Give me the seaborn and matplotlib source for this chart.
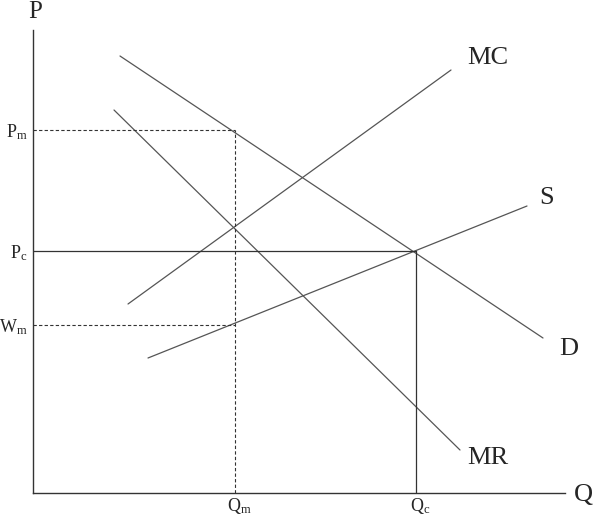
import matplotlib
matplotlib.use('Agg')
import matplotlib.pyplot as plt
import matplotlib.transforms as mtransforms
import pandas as pd
import seaborn as sns

# curve end points (q, p)
curves = ['MC', 'D', 'MR', 'S']
q_start = [95, 87, 81, 115]
p_start = [189, 437, 383, 135]
q_end = [418, 510, 427, 494]
p_end = [423, 155, 43, 287]

# prices / quantities marked on the axes
Pm, Pc, Wm = 363, 242, 168
Qm, Qc = 202, 383
q_max, p_max = 532, 463

df = pd.DataFrame({
    'curve': curves * 2,
    'q': q_start + q_end,
    'p': p_start + p_end,
})

sns.set_theme(style='white')
plt.rcParams['font.family'] = ['Liberation Serif', 'DejaVu Serif']
plt.rcParams['mathtext.fontset'] = 'custom'
plt.rcParams['mathtext.rm'] = 'Liberation Serif'

W, H = 595, 518
fig = plt.figure(figsize=(W / 100, H / 100), dpi=100)
ax = fig.add_axes([33 / W, 25 / H, 532 / W, 463 / H])

sns.lineplot(data=df, x='q', y='p', hue='curve', units='curve', estimator=None,
             sort=False, palette=['#555555'] * 4, linewidth=0.9, legend=False, ax=ax)

# dashed guides (monopoly) and solid guides (competition)
ax.plot([0, Qm], [Pm, Pm], ls='--', color='#333333', lw=0.8, dashes=(3, 2))
ax.plot([Qm, Qm], [0, Pm], ls='--', color='#333333', lw=0.8, dashes=(3, 2))
ax.plot([0, Qm], [Wm, Wm], ls='--', color='#333333', lw=0.8, dashes=(3, 2))
ax.plot([0, Qc], [Pc, Pc], color='#333333', lw=0.9)
ax.plot([Qc, Qc], [0, Pc], color='#333333', lw=0.9)

ax.set_xlim(0, q_max)
ax.set_ylim(0, p_max)
for s in ['top', 'right']:
    ax.spines[s].set_visible(False)
for s in ['left', 'bottom']:
    ax.spines[s].set_color('#333333')
    ax.spines[s].set_linewidth(1.0)

ax.set_xticks([Qm, Qc])
ax.set_xticklabels([r'$\mathregular{Q_m}$', r'$\mathregular{Q_c}$'], fontsize=13)
ax.set_yticks([Wm, Pc, Pm])
ax.set_yticklabels([r'$\mathregular{W_m}$', r'$\mathregular{P_c}$', r'$\mathregular{P_m}$'], fontsize=13)
ax.tick_params(axis='x', length=0, pad=2)
ax.tick_params(axis='y', length=0, pad=4)
# nudge Q labels so the letter itself sits on the tick
shift = mtransforms.ScaledTranslation(4 / 100, 0, fig.dpi_scale_trans)
for lab in ax.get_xticklabels():
    lab.set_transform(lab.get_transform() + shift)
ax.set_xlabel('')
ax.set_ylabel('')

ax.text(2, 481, 'P', fontsize=18, ha='center', va='center', clip_on=False)
ax.text(550, -2, 'Q', fontsize=19, ha='center', va='center', clip_on=False)
ax.text(455, 435, 'MC', fontsize=19, ha='center', va='center')
ax.text(514, 295, 'S', fontsize=19, ha='center', va='center')
ax.text(536, 144, 'D', fontsize=19, ha='center', va='center')
ax.text(455, 35, 'MR', fontsize=19, ha='center', va='center')

fig.savefig('out.png', dpi=100)
